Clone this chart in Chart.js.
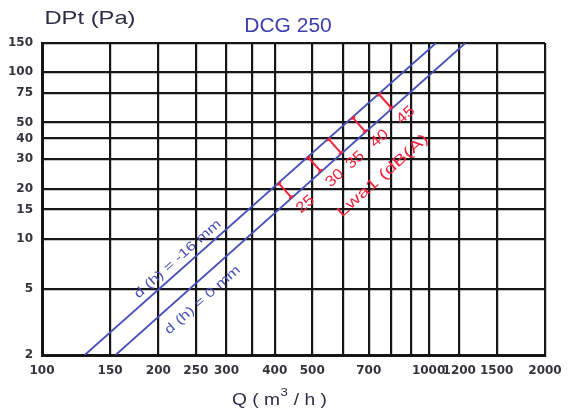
<!DOCTYPE html>
<html>
<head>
<meta charset="utf-8">
<script src="https://cdn.jsdelivr.net/npm/chart.js@4"></script>
<style>
  html, body { margin: 0; padding: 0; background: #fff; }
</style>
</head>
<body>
<canvas id="chart" width="571" height="414"></canvas>
<script>
// DCG 250 - pressure drop vs air flow (log-log)

const qTicks = [100, 150, 200, 250, 300, 350, 400, 500, 600, 700, 800, 900, 1000, 1200, 1500, 2000];
const qLabels = [100, 150, 200, 250, 300, 400, 500, 700, 1000, 1200, 1500, 2000];
const dpTicks = [2, 5, 10, 15, 20, 30, 40, 50, 75, 100, 150];

// d(h) = -16 mm
const flowMinus16 = [129, 1045];
const dpMinus16 = [2, 150];
// d(h) = 0 mm
const flowZero = [155, 1245];
const dpZero = [2, 150];

// sound level marks, placed between the two curves
const lwaLevels = ['25', '30', '35', '40', '45'];
const lwaDp = [19.5, 28, 36, 48.5, 67];

const BLUE = '#4650b8';
const RED = '#f0243c';
const GRID = '#161616';

function toPoints(xs, ys) {
  return xs.map((x, i) => ({ x: x, y: ys[i] }));
}

// flow of a curve at a given pressure (straight line in log-log)
function flowAt(qs, ps, p) {
  const t = (Math.log(p) - Math.log(ps[0])) / (Math.log(ps[1]) - Math.log(ps[0]));
  return Math.exp(Math.log(qs[0]) + t * (Math.log(qs[1]) - Math.log(qs[0])));
}

function drawRot(c, text, x, y, angle, font, color, sx) {
  c.save();
  c.translate(x, y);
  c.rotate(angle);
  c.scale(sx, 1);
  c.font = font;
  c.fillStyle = color;
  c.textAlign = 'center';
  c.textBaseline = 'middle';
  c.fillText(text, 0, 0);
  c.restore();
}

const annotations = {
  id: 'annotations',
  afterDraw(chart) {
    const c = chart.ctx;
    const xs = chart.scales.x;
    const ys = chart.scales.y;

    const x0 = xs.getPixelForValue(flowMinus16[0]);
    const y0 = ys.getPixelForValue(dpMinus16[0]);
    const x1 = xs.getPixelForValue(flowMinus16[1]);
    const y1 = ys.getPixelForValue(dpMinus16[1]);
    const ang = Math.atan2(y1 - y0, x1 - x0);
    const u = { x: Math.cos(ang), y: Math.sin(ang) };
    const n = { x: -Math.sin(ang), y: Math.cos(ang) };

    function onCurve(qs, ps, p, dn, du) {
      const px = xs.getPixelForValue(flowAt(qs, ps, p));
      const py = ys.getPixelForValue(p);
      return { x: px + n.x * dn + u.x * du, y: py + n.y * dn + u.y * du };
    }
    function onMid(p, dn, du) {
      const a = onCurve(flowMinus16, dpMinus16, p, 0, 0);
      const b = onCurve(flowZero, dpZero, p, 0, 0);
      const mx = (a.x + b.x) / 2, my = ys.getPixelForValue(p);
      return { x: mx + n.x * dn + u.x * du, y: my + n.y * dn + u.y * du };
    }

    // curve labels
    const l1 = onCurve(flowMinus16, dpMinus16, 6.8, -10, 0);
    drawRot(c, 'd (h) = -16 mm', l1.x, l1.y, ang, '13px "Liberation Sans", Arial', BLUE, 1.3);
    const l2 = onCurve(flowZero, dpZero, 5.1, 17, 0);
    drawRot(c, 'd (h) = 0 mm', l2.x, l2.y, ang, '13px "Liberation Sans", Arial', BLUE, 1.3);

    // red sound level marks
    c.save();
    c.strokeStyle = RED;
    c.lineWidth = 2;
    lwaDp.forEach((p, i) => {
      const m = onMid(p, 0, 0);
      const h = 9, cap = 2.5;
      const a = { x: m.x - n.x * h, y: m.y - n.y * h };
      const b = { x: m.x + n.x * h, y: m.y + n.y * h };
      c.beginPath();
      c.moveTo(a.x, a.y); c.lineTo(b.x, b.y);
      c.moveTo(a.x - u.x * cap, a.y - u.y * cap); c.lineTo(a.x + u.x * cap, a.y + u.y * cap);
      c.moveTo(b.x - u.x * cap, b.y - u.y * cap); c.lineTo(b.x + u.x * cap, b.y + u.y * cap);
      c.stroke();
      const t = onMid(p, 24, 6);
      drawRot(c, lwaLevels[i], t.x, t.y, ang, '15px "Liberation Sans", Arial', RED, 1.15);
    });
    c.restore();
    const lw = onMid(41, 54, 2);
    drawRot(c, 'Lwa1 (dB(A)', lw.x, lw.y, ang, '15px "Liberation Sans", Arial', RED, 1.4);

    // titles
    drawRot(c, 'DPt (Pa)', 90, 19, 0, '19px "Liberation Sans", Arial', '#2b2d44', 1.25);
    drawRot(c, 'DCG 250', 288, 26, 0, '20px "Liberation Sans", Arial', '#3c3fae', 1.05);

    // x axis title with superscript
    c.save();
    c.fillStyle = '#2b2d44';
    c.textBaseline = 'alphabetic';
    c.textAlign = 'left';
    c.translate(232, 405);
    c.scale(1.2, 1);
    c.font = '16px "Liberation Sans", Arial';
    const p1 = 'Q ( m';
    c.fillText(p1, 0, 0);
    let w = c.measureText(p1).width;
    c.font = '11px "Liberation Sans", Arial';
    c.fillText('3', w + 0.5, -9);
    w += c.measureText('3').width + 1;
    c.font = '16px "Liberation Sans", Arial';
    c.fillText(' / h )', w, 0);
    c.restore();
  }
};

const tickFont = { family: '"DejaVu Sans", sans-serif', size: 12, weight: 'bold' };

new Chart(document.getElementById('chart'), {
  type: 'scatter',
  data: {
    datasets: [
      {
        data: toPoints(flowMinus16, dpMinus16),
        showLine: true,
        borderColor: BLUE,
        borderWidth: 1.8,
        pointRadius: 0
      },
      {
        data: toPoints(flowZero, dpZero),
        showLine: true,
        borderColor: BLUE,
        borderWidth: 1.8,
        pointRadius: 0
      }
    ]
  },
  options: {
    responsive: false,
    animation: false,
    layout: { padding: { top: 43, right: 26, left: 0, bottom: 0 } },
    plugins: {
      legend: { display: false },
      tooltip: { enabled: false }
    },
    scales: {
      x: {
        type: 'logarithmic',
        min: 100,
        max: 2000,
        afterBuildTicks: s => { s.ticks = qTicks.map(v => ({ value: v })); },
        afterFit: s => { s.height = 59; },
        grid: { color: GRID, lineWidth: 2.2, drawTicks: false },
        border: { color: GRID, width: 3 },
        ticks: {
          autoSkip: false,
          maxRotation: 0,
          padding: 9,
          color: '#33333d',
          font: tickFont,
          callback: v => qLabels.includes(v) ? String(v) : ''
        }
      },
      y: {
        type: 'logarithmic',
        min: 2,
        max: 150,
        afterBuildTicks: s => { s.ticks = dpTicks.map(v => ({ value: v })); },
        afterFit: s => { s.width = 42; },
        grid: { color: GRID, lineWidth: 2.2, drawTicks: false },
        border: { color: GRID, width: 3 },
        ticks: {
          autoSkip: false,
          padding: 9,
          color: '#33333d',
          font: tickFont,
          callback: v => String(v)
        }
      }
    }
  },
  plugins: [annotations]
});
</script>
</body>
</html>
